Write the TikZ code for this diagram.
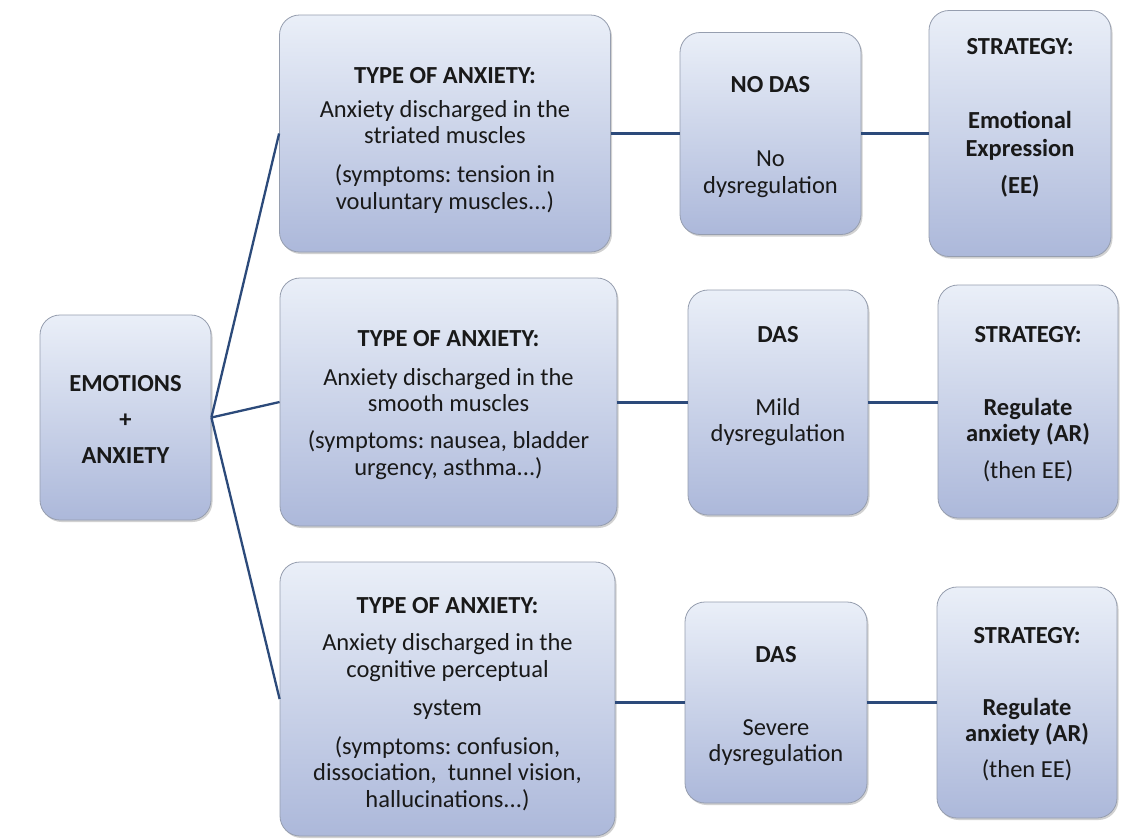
\documentclass[tikz,border=0pt]{standalone}
\usepackage{fontspec}
\setmainfont{Carlito}
\usetikzlibrary{shadows}
\frenchspacing
\definecolor{boxtop}{RGB}{234,239,248}
\definecolor{boxbot}{RGB}{172,184,218}
\definecolor{boxline}{RGB}{150,158,175}
\definecolor{conncol}{RGB}{44,74,122}
\definecolor{txt}{RGB}{25,25,25}
\tikzset{
  box/.style={draw=boxline, line width=0.8pt, rounded corners=20pt,
    top color=boxtop, bottom color=boxbot, inner sep=0pt,
    drop shadow={shadow xshift=1.5pt, shadow yshift=-2pt, opacity=0.18, fill=black}},
  txtnode/.style={align=center, text=txt, inner sep=0pt,
    font=\fontsize{24.5}{26.5}\selectfont},
  conn/.style={draw=conncol, line width=2.3pt}
}
\begin{document}
\begin{tikzpicture}[x=1pt,y=-1pt]
\useasboundingbox (0,0) rectangle (1140,839);
\fill[white] (0,0) rectangle (1140,839);
% boxes
\node[box, minimum width=171pt, minimum height=205pt] (emo) at (125.5,417.5) {};
\node[box, minimum width=331pt, minimum height=237pt] (ty1) at (445,133.5) {};
\node[box, minimum width=181pt, minimum height=202pt] (nd1) at (770.5,133.5) {};
\node[box, minimum width=182pt, minimum height=246pt] (st1) at (1020,133.5) {};
\node[box, minimum width=337pt, minimum height=248pt] (ty2) at (448.5,402) {};
\node[box, minimum width=180pt, minimum height=225pt] (das2) at (778,402.5) {};
\node[box, minimum width=180pt, minimum height=233pt] (st2) at (1028,401.5) {};
\node[box, minimum width=335pt, minimum height=274pt] (ty3) at (447.5,699) {};
\node[box, minimum width=182pt, minimum height=201pt] (das3) at (776,702.5) {};
\node[box, minimum width=180pt, minimum height=231pt] (st3) at (1027,702.5) {};
% connectors
\draw[conn] (emo.east) -- (ty1.west);
\draw[conn] (emo.east) -- (ty2.west);
\draw[conn] (emo.east) -- (ty3.west);
\draw[conn] (ty1.east |- nd1.west) -- (nd1.west);
\draw[conn] (nd1.east) -- (nd1.east -| st1.west);
\draw[conn] (ty2.east |- das2.west) -- (das2.west);
\draw[conn] (das2.east) -- (das2.east -| st2.west);
\draw[conn] (ty3.east |- das3.west) -- (das3.west);
\draw[conn] (das3.east) -- (das3.east -| st3.west);
% texts
\node[txtnode] (temo) at (125.5,419) {\textbf{EMOTIONS}\\[9.5pt]\textbf{+}\\[9.5pt]\textbf{ANXIETY}};
\node[txtnode] (tty1) at (445,140) {\textbf{TYPE OF ANXIETY:}\\[7.5pt]Anxiety discharged in the\\striated muscles\\[12.5pt](symptoms: tension in\\vouluntary muscles...)};
\node[txtnode] (tnd1) at (770.5,137) {\textbf{NO DAS}\\[47.5pt]No\\dysregulation};
\node[txtnode] (tst1) at (1020,118) {\textbf{STRATEGY:}\\[47.5pt]\textbf{Emotional}\\[1.5pt]\textbf{Expression}\\[10.5pt]\textbf{(EE)}};
\node[txtnode] (tty2) at (448.5,405) {\textbf{TYPE OF ANXIETY:}\\[12.5pt]Anxiety discharged in the\\smooth muscles\\[10.5pt](symptoms: nausea, bladder\\urgency, asthma...)};
\node[txtnode] (tdas2) at (778,386) {\textbf{DAS}\\[46.5pt]Mild\\dysregulation};
\node[txtnode] (tst2) at (1028,404) {\textbf{STRATEGY:}\\[46.5pt]\textbf{Regulate}\\\textbf{anxiety (AR)}\\[10.5pt](then EE)};
\node[txtnode] (tty3) at (447.5,704) {\textbf{TYPE OF ANXIETY:}\\[10.5pt]Anxiety discharged in the\\cognitive perceptual\\[11.5pt]system\\[12.5pt](symptoms: confusion,\\dissociation,\ \ tunnel vision,\\hallucinations...)};
\node[txtnode] (tdas3) at (776,706) {\textbf{DAS}\\[46.5pt]Severe\\dysregulation};
\node[txtnode] (tst3) at (1027,704) {\textbf{STRATEGY:}\\[45.5pt]\textbf{Regulate}\\\textbf{anxiety (AR)}\\[9.5pt](then EE)};
\end{tikzpicture}
\end{document}
